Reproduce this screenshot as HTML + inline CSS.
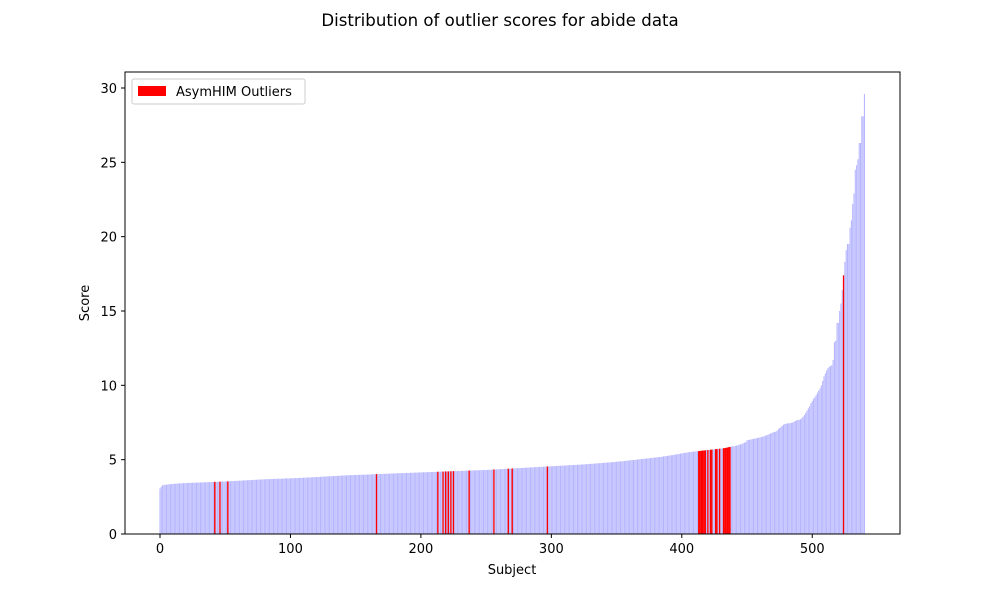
<!DOCTYPE html>
<html><head><meta charset="utf-8"><style>
body{margin:0;background:#fff}
svg{display:block;font-family:"DejaVu Sans","Liberation Sans",sans-serif}
</style></head><body>
<svg id="chart" width="1000" height="600" viewBox="0 0 1000 600" xmlns="http://www.w3.org/2000/svg">
<rect width="1000" height="600" fill="#fff"/>
<text x="500" y="26" text-anchor="middle" font-size="16.6">Distribution of outlier scores for abide data</text>
<g id="bars"></g>
<rect x="125" y="72" width="775" height="462" fill="none" stroke="#000" stroke-width="1"/>
<g id="axes"></g>
<text x="512" y="574" text-anchor="middle" font-size="13">Subject</text>
<text transform="translate(89,303) rotate(-90)" text-anchor="middle" font-size="13">Score</text>
<g>
<rect x="132" y="79" width="173" height="25" rx="2" fill="#fff" fill-opacity="0.8" stroke="#ccc"/>
<rect x="138" y="86" width="28" height="10" fill="#ff0000"/>
<text x="176" y="96" font-size="13">AsymHIM Outliers</text>
</g>
</svg>
<script>
const scores = [
3.07,3.2,3.28,3.3,3.31,3.32,3.33,3.34,3.35,3.36,
3.37,3.38,3.38,3.39,3.4,3.4,3.41,3.41,3.42,3.42,
3.43,3.43,3.44,3.44,3.44,3.45,3.45,3.45,3.46,3.46,
3.46,3.47,3.47,3.47,3.48,3.48,3.48,3.49,3.49,3.49,
3.5,3.5,3.51,3.51,3.51,3.52,3.52,3.52,3.53,3.53,
3.53,3.54,3.54,3.55,3.55,3.56,3.56,3.57,3.57,3.58,
3.58,3.59,3.59,3.6,3.6,3.61,3.61,3.62,3.62,3.63,
3.63,3.64,3.64,3.65,3.65,3.66,3.66,3.67,3.67,3.67,
3.68,3.68,3.69,3.69,3.69,3.7,3.7,3.7,3.71,3.71,
3.71,3.72,3.72,3.72,3.73,3.73,3.73,3.74,3.74,3.74,
3.75,3.75,3.75,3.76,3.76,3.76,3.77,3.77,3.78,3.78,
3.78,3.79,3.79,3.8,3.8,3.81,3.81,3.82,3.82,3.83,
3.83,3.84,3.84,3.85,3.85,3.86,3.86,3.87,3.87,3.88,
3.88,3.89,3.89,3.9,3.9,3.91,3.91,3.92,3.92,3.93,
3.93,3.94,3.94,3.95,3.95,3.95,3.96,3.96,3.96,3.97,
3.97,3.97,3.98,3.98,3.98,3.99,3.99,3.99,4.0,4.0,
4.0,4.01,4.01,4.02,4.02,4.03,4.03,4.03,4.04,4.04,
4.04,4.05,4.05,4.05,4.06,4.06,4.06,4.07,4.07,4.07,
4.08,4.08,4.08,4.09,4.09,4.09,4.1,4.1,4.1,4.11,
4.11,4.11,4.12,4.12,4.12,4.13,4.13,4.13,4.14,4.14,
4.14,4.15,4.15,4.15,4.16,4.16,4.16,4.17,4.17,4.17,
4.18,4.18,4.18,4.19,4.19,4.19,4.2,4.2,4.2,4.21,
4.21,4.21,4.22,4.22,4.22,4.23,4.23,4.23,4.24,4.24,
4.24,4.25,4.25,4.25,4.26,4.26,4.26,4.27,4.27,4.27,
4.28,4.28,4.28,4.29,4.29,4.29,4.3,4.3,4.3,4.31,
4.31,4.31,4.32,4.32,4.33,4.33,4.34,4.34,4.35,4.35,
4.36,4.36,4.37,4.37,4.38,4.38,4.39,4.39,4.4,4.4,
4.41,4.41,4.42,4.42,4.43,4.43,4.44,4.44,4.45,4.45,
4.46,4.46,4.47,4.47,4.48,4.48,4.49,4.49,4.5,4.5,
4.51,4.51,4.52,4.52,4.53,4.53,4.54,4.54,4.55,4.55,
4.56,4.56,4.57,4.57,4.58,4.58,4.59,4.59,4.6,4.6,
4.61,4.61,4.62,4.62,4.63,4.63,4.64,4.64,4.65,4.65,
4.66,4.66,4.67,4.67,4.68,4.68,4.69,4.7,4.7,4.71,
4.72,4.72,4.73,4.74,4.74,4.75,4.76,4.76,4.77,4.78,
4.78,4.79,4.8,4.81,4.81,4.82,4.83,4.84,4.84,4.85,
4.86,4.87,4.88,4.88,4.89,4.9,4.91,4.92,4.93,4.94,
4.95,4.96,4.97,4.98,4.99,5.0,5.01,5.02,5.03,5.04,
5.05,5.06,5.07,5.08,5.09,5.1,5.11,5.12,5.13,5.14,
5.15,5.16,5.17,5.18,5.19,5.2,5.22,5.23,5.24,5.26,
5.27,5.28,5.3,5.31,5.33,5.34,5.36,5.37,5.39,5.41,
5.42,5.44,5.45,5.47,5.48,5.5,5.51,5.52,5.53,5.54,
5.55,5.56,5.57,5.58,5.59,5.6,5.61,5.62,5.63,5.64,
5.65,5.66,5.67,5.68,5.69,5.7,5.71,5.72,5.73,5.74,
5.75,5.76,5.77,5.78,5.8,5.82,5.84,5.86,5.88,5.9,
5.9,5.92,5.95,5.98,6.0,6.03,6.06,6.1,6.14,6.18,
6.3,6.32,6.34,6.36,6.38,6.4,6.42,6.44,6.46,6.48,
6.5,6.52,6.55,6.58,6.61,6.64,6.68,6.72,6.76,6.8,
6.84,6.86,6.88,6.95,7.05,7.12,7.2,7.28,7.35,7.4,
7.42,7.44,7.45,7.46,7.48,7.5,7.55,7.6,7.65,7.67,
7.68,7.72,7.8,7.9,8.0,8.15,8.3,8.45,8.6,8.8,
8.95,9.1,9.2,9.35,9.5,9.65,9.8,10.0,10.3,10.6,
10.8,11.0,11.15,11.25,11.3,11.35,11.7,12.9,13.0,14.2,
14.2,15.0,15.5,16.4,17.4,18.3,19.1,19.5,19.5,20.6,
21.1,22.2,22.9,24.5,24.8,25.2,26.3,26.3,28.1,28.1,29.6
];
const outlierIdx = [42,46,52,166,213,217,219,221,223,225,237,256,267,270,297,
413,414,415,416,417,418,420,422,423,426,427,429,432,433,434,435,436,437,524];
const xTicks = [0,100,200,300,400,500];
const yTicks = [0,5,10,15,20,25,30];

const NS = "http://www.w3.org/2000/svg";
const xS = v => 160 + v * 1.3045;
const yS = v => 534 - v * 14.867;
const barsG = document.getElementById('bars');
const outSet = new Set(outlierIdx);
scores.forEach((v, i) => {
  const isOut = outSet.has(i);
  const r = document.createElementNS(NS, 'rect');
  const w = isOut ? 1.4 : 0.8 * 1.3045;
  r.setAttribute('x', xS(i) - w / 2);
  r.setAttribute('y', yS(v));
  r.setAttribute('width', w);
  r.setAttribute('height', yS(0) - yS(v));
  r.setAttribute('fill', isOut ? '#ff0000' : '#b4b4ff');
  
  
  barsG.appendChild(r);
});
const ax = document.getElementById('axes');
xTicks.forEach(t => {
  const l = document.createElementNS(NS, 'line');
  l.setAttribute('x1', xS(t)); l.setAttribute('x2', xS(t));
  l.setAttribute('y1', 534); l.setAttribute('y2', 538);
  l.setAttribute('stroke', '#000');
  
  
  ax.appendChild(l);
  const tx = document.createElementNS(NS, 'text');
  tx.setAttribute('x', xS(t)); tx.setAttribute('y', 553);
  tx.setAttribute('text-anchor', 'middle'); tx.setAttribute('font-size', '13');
  tx.textContent = t;
  
  
  ax.appendChild(tx);
});
yTicks.forEach(t => {
  const l = document.createElementNS(NS, 'line');
  l.setAttribute('x1', 121); l.setAttribute('x2', 125);
  l.setAttribute('y1', yS(t)); l.setAttribute('y2', yS(t));
  l.setAttribute('stroke', '#000');
  
  
  ax.appendChild(l);
  const tx = document.createElementNS(NS, 'text');
  tx.setAttribute('x', 117); tx.setAttribute('y', yS(t) + 5);
  tx.setAttribute('text-anchor', 'end'); tx.setAttribute('font-size', '13');
  tx.textContent = t;
  
  
  ax.appendChild(tx);
});
</script>
</body></html>
